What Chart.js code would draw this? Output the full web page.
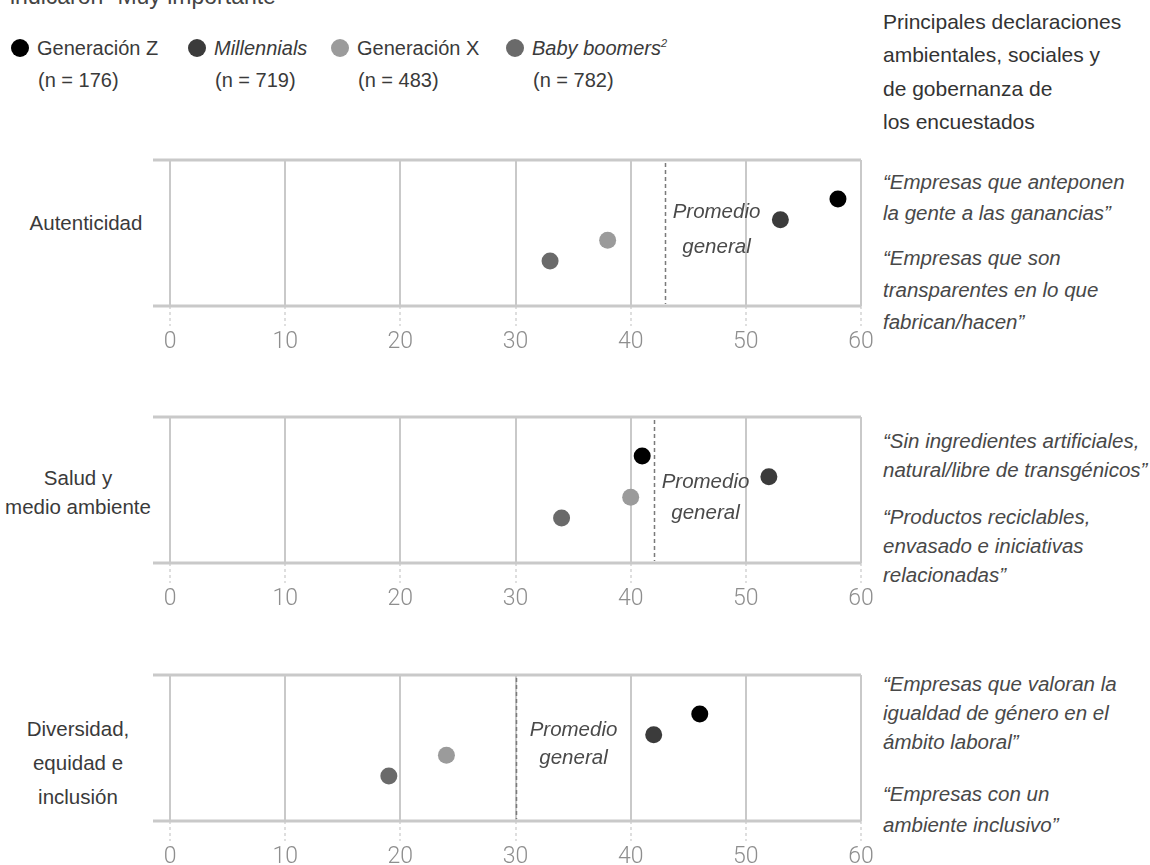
<!DOCTYPE html>
<html lang="es">
<head>
<meta charset="utf-8">
<title>Declaraciones ASG por generación</title>
<script src="https://cdn.jsdelivr.net/npm/chart.js@4"></script>
<style>
  html, body { margin: 0; padding: 0; background: #ffffff; }
  body { width: 1150px; height: 865px; position: relative; overflow: hidden;
         font-family: "Liberation Sans", Arial, sans-serif; color: #333; }
  .t { position: absolute; white-space: nowrap; }
  .c { transform: translateX(-50%); text-align: center; }
  .it { font-style: italic; }
  canvas { position: absolute; left: 0; }
  .dot { position: absolute; width: 18px; height: 18px; border-radius: 50%; }
</style>
</head>
<body>
<script>
// ---- data ----
const categories = ['Autenticidad', 'Salud y\nmedio ambiente', 'Diversidad,\nequidad e\ninclusión'];
const seriesNames = ['Generación Z', 'Millennials', 'Generación X', 'Baby boomers'];
const seriesSampleSizes = [176, 719, 483, 782];
const genZValues = [58, 41, 46];
const millennialsValues = [53, 52, 42];
const genXValues = [38, 40, 24];
const boomersValues = [33, 34, 19];
const overallAverage = [43, 42, 30];
const tickValues = [0, 10, 20, 30, 40, 50, 60];
const averageLabel = ['Promedio', 'general'];
const headerLines = ['Principales declaraciones', 'ambientales, sociales y', 'de gobernanza de', 'los encuestados'];
const statements = [
  [['“Empresas que anteponen', 'la gente a las ganancias”'],
   ['“Empresas que son', 'transparentes en lo que', 'fabrican/hacen”']],
  [['“Sin ingredientes artificiales,', 'natural/libre de transgénicos”'],
   ['“Productos reciclables,', 'envasado e iniciativas', 'relacionadas”']],
  [['“Empresas que valoran la', 'igualdad de género en el', 'ámbito laboral”'],
   ['“Empresas con un', 'ambiente inclusivo”']]
];

// ---- styles & layout ----
const seriesValues = [genZValues, millennialsValues, genXValues, boomersValues];
const seriesColors = ['#000000', '#3b3b3b', '#9b9b9b', '#6a6a6a'];
const seriesItalic = [false, true, false, true];
const legendX = [11, 188, 331, 506];
const gridColor = '#c9c9c9';
const panelHeight = 146;
const panels = [
  { top: 160, labelX: 86, labelY: [223],           quoteY: [[182, 213], [258, 290, 322]], avgDx: 51, avgY: [52, 87] },
  { top: 417, labelX: 78, labelY: [478, 507],      quoteY: [[441, 470], [517, 546, 575]], avgDx: 51, avgY: [65, 96] },
  { top: 675, labelX: 78, labelY: [729, 763, 797], quoteY: [[684, 713, 742], [794, 825]], avgDx: 57, avgY: [55, 83] }
];

function addText(str, x, y, opts) {
  const o = Object.assign({ size: 20, lh: 26, color: '#333', italic: false, center: false, weight: 400 }, opts || {});
  const d = document.createElement('div');
  d.className = 't' + (o.center ? ' c' : '') + (o.italic ? ' it' : '');
  d.style.left = x + 'px';
  d.style.top = (y - o.lh / 2) + 'px';
  d.style.fontSize = o.size + 'px';
  d.style.lineHeight = o.lh + 'px';
  d.style.color = o.color;
  d.style.fontWeight = o.weight;
  if (o.html) d.innerHTML = str; else d.textContent = str;
  document.body.appendChild(d);
  return d;
}

// title line running off the top edge
addText('indicaron “Muy importante”', 10, -4, { size: 23, lh: 28, color: '#444' });

// legend
seriesNames.forEach((name, s) => {
  const dot = document.createElement('div');
  dot.className = 'dot';
  dot.style.left = legendX[s] + 'px';
  dot.style.top = '39px';
  dot.style.background = seriesColors[s];
  document.body.appendChild(dot);
  const label = s === 3 ? name + '<sup style="font-size:11px;vertical-align:8px;line-height:0">2</sup>' : name;
  addText(label, legendX[s] + 26, 48, { italic: seriesItalic[s], html: true, color: '#3a3a3a' });
  addText('(n = ' + seriesSampleSizes[s] + ')', legendX[s] + 27, 80, { color: '#3a3a3a' });
});

// right-hand header
headerLines.forEach((line, k) => addText(line, 883, 22 + k * 33.4, { size: 21, lh: 28, color: '#333' }));

// panel text: category labels and statements
panels.forEach((p, i) => {
  categories[i].split('\n').forEach((line, k) => addText(line, p.labelX, p.labelY[k], { center: true, size: 20.5, color: '#3a3a3a' }));
  statements[i].forEach((para, j) => para.forEach((line, k) =>
    addText(line, 883, p.quoteY[j][k], { italic: true, size: 20.5, color: '#484848' })));
});

// frame lines, overall-average marker and its label
const framePlugin = {
  id: 'frame',
  beforeDatasetsDraw(chart) {
    const { ctx, chartArea: a, scales } = chart;
    const i = chart.options.plugins.frame.panel;
    const p = panels[i];
    ctx.save();
    ctx.strokeStyle = gridColor;
    ctx.lineWidth = 3;
    ctx.beginPath();
    ctx.moveTo(a.left, a.top); ctx.lineTo(a.right, a.top);
    ctx.moveTo(a.left, a.bottom); ctx.lineTo(a.right, a.bottom);
    ctx.stroke();

    const ax = Math.round(scales.x.getPixelForValue(overallAverage[i])) + 0.5;
    ctx.strokeStyle = '#7a7a7a';
    ctx.lineWidth = 1.5;
    ctx.setLineDash([4, 3]);
    ctx.beginPath();
    ctx.moveTo(ax, a.top + 3); ctx.lineTo(ax, a.bottom - 2);
    ctx.stroke();
    ctx.setLineDash([]);

    ctx.fillStyle = '#4a4a4a';
    ctx.font = 'italic 20.5px "Liberation Sans", Arial, sans-serif';
    ctx.textAlign = 'center';
    ctx.textBaseline = 'middle';
    averageLabel.forEach((t, k) => ctx.fillText(t, ax + p.avgDx, a.top + p.avgY[k]));
    ctx.restore();
  }
};

panels.forEach((p, i) => {
  const canvas = document.createElement('canvas');
  canvas.width = 1150;
  canvas.height = panelHeight + 62;
  canvas.style.top = (p.top - 10) + 'px';
  document.body.appendChild(canvas);

  new Chart(canvas, {
    type: 'scatter',
    data: {
      datasets: seriesNames.map((name, s) => ({
        label: name,
        data: [{ x: seriesValues[s][i], y: s }],
        backgroundColor: seriesColors[s],
        borderWidth: 0,
        pointRadius: 8.5,
        pointHoverRadius: 8.5
      }))
    },
    options: {
      responsive: false,
      animation: false,
      events: [],
      layout: { padding: { left: 153, right: 289, top: 10, bottom: 0 } },
      plugins: { legend: { display: false }, tooltip: { enabled: false }, frame: { panel: i } },
      scales: {
        x: {
          type: 'linear',
          min: -1.48,
          max: 60,
          afterBuildTicks: s => { s.ticks = tickValues.map(v => ({ value: v })); },
          afterFit: s => { s.height = 52; },
          grid: {
            color: gridColor, lineWidth: 2,
            drawTicks: true, tickLength: 20, tickColor: '#d4d4d4', tickWidth: 1.5, tickBorderDash: [3, 3]
          },
          border: { display: false },
          ticks: {
            color: '#8e8e8e', padding: 2, maxRotation: 0, autoSkip: false,
            font: { family: 'Roboto', size: 23, weight: '300' }
          }
        },
        y: { display: false, min: -1.88, max: 5.17, reverse: true }
      }
    },
    plugins: [framePlugin]
  });
});
</script>
</body>
</html>
